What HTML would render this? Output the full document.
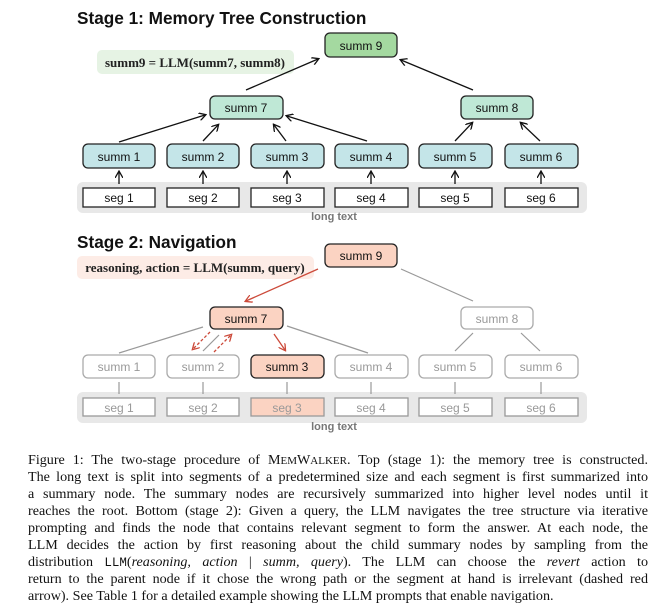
<!DOCTYPE html>
<html><head><meta charset="utf-8"><style>
body{margin:0;width:670px;height:613px;background:#fff;overflow:hidden;position:relative}
svg{position:absolute;left:0;top:0}
.cap{position:absolute;left:28px;top:452px;width:620px;font-family:"Liberation Serif",serif;font-size:14.1px;color:#111}
.cap div{height:17px;line-height:17px;text-align:justify;text-align-last:justify;white-space:nowrap}
.cap div.l{text-align-last:left}
.sc{font-size:11px}
</style></head><body>
<svg width="670" height="450" viewBox="0 0 670 450" font-family="Liberation Sans, sans-serif">
<defs>
<marker id="a" markerWidth="8" markerHeight="8" refX="6" refY="4" orient="auto" markerUnits="userSpaceOnUse"><path d="M0,0 L7,4 L0,8" fill="none" stroke="#111" stroke-width="1.3"/></marker>
<marker id="r" markerWidth="8" markerHeight="8" refX="6" refY="4" orient="auto" markerUnits="userSpaceOnUse"><path d="M0,0 L7,4 L0,8" fill="none" stroke="#cc4a3a" stroke-width="1.3"/></marker>
</defs>
<text x="77" y="24" font-size="17.2" font-weight="bold" fill="#111">Stage 1: Memory Tree Construction</text>
<rect x="97" y="50" width="197" height="24" rx="5" fill="#e6f3e4"/>
<text x="195" y="67" font-size="13" font-family="Liberation Serif, serif" font-weight="bold" text-anchor="middle" fill="#222">summ9 = LLM(summ7, summ8)</text>
<rect x="77" y="182" width="510" height="31" rx="6" fill="#e8e8e8"/>
<text x="334" y="220" font-size="11" font-weight="bold" fill="#777" text-anchor="middle">long text</text>
<g stroke="#111" stroke-width="1.3" marker-end="url(#a)">
<line x1="246" y1="90" x2="318" y2="59"/><line x1="473" y1="90" x2="401" y2="60"/>
<line x1="119" y1="142" x2="205" y2="115"/><line x1="203" y1="141" x2="218" y2="125"/>
<line x1="286" y1="141" x2="274" y2="125"/><line x1="367" y1="141" x2="287" y2="116"/>
<line x1="455" y1="141" x2="472" y2="123"/><line x1="540" y1="141" x2="521" y2="123"/>
<line x1="119" y1="184" x2="119" y2="172"/><line x1="203" y1="184" x2="203" y2="172"/>
<line x1="287" y1="184" x2="287" y2="172"/><line x1="371" y1="184" x2="371" y2="172"/>
<line x1="455" y1="184" x2="455" y2="172"/><line x1="541" y1="184" x2="541" y2="172"/>
</g>
<g stroke="#222" stroke-width="1.3" font-size="12">
<rect x="325" y="33" width="72" height="24" rx="5" fill="#a4d9a0"/>
<rect x="210" y="96" width="73" height="23" rx="5" fill="#bfe8d6"/>
<rect x="461" y="96" width="72" height="23" rx="5" fill="#bfe8d6"/>
<rect x="83" y="144" width="72" height="24" rx="5" fill="#c4e5e8"/>
<rect x="167" y="144" width="72" height="24" rx="5" fill="#c4e5e8"/>
<rect x="251" y="144" width="73" height="24" rx="5" fill="#c4e5e8"/>
<rect x="335" y="144" width="73" height="24" rx="5" fill="#c4e5e8"/>
<rect x="419" y="144" width="73" height="24" rx="5" fill="#c4e5e8"/>
<rect x="505" y="144" width="73" height="24" rx="5" fill="#c4e5e8"/>
<rect x="83" y="188" width="72" height="19" fill="#fff"/>
<rect x="167" y="188" width="72" height="19" fill="#fff"/>
<rect x="251" y="188" width="73" height="19" fill="#fff"/>
<rect x="335" y="188" width="73" height="19" fill="#fff"/>
<rect x="419" y="188" width="73" height="19" fill="#fff"/>
<rect x="505" y="188" width="73" height="19" fill="#fff"/>
</g>
<g font-size="12" fill="#111" text-anchor="middle">
<text x="361" y="50">summ 9</text><text x="246" y="112">summ 7</text><text x="497" y="112">summ 8</text>
<text x="119" y="161">summ 1</text><text x="203" y="161">summ 2</text><text x="287" y="161">summ 3</text>
<text x="371" y="161">summ 4</text><text x="455" y="161">summ 5</text><text x="541" y="161">summ 6</text>
<text x="119" y="202">seg 1</text><text x="203" y="202">seg 2</text><text x="287" y="202">seg 3</text>
<text x="371" y="202">seg 4</text><text x="455" y="202">seg 5</text><text x="541" y="202">seg 6</text>
</g>

<text x="77" y="248" font-size="17.2" font-weight="bold" fill="#111">Stage 2: Navigation</text>
<rect x="77" y="256" width="237" height="23" rx="5" fill="#fdece6"/>
<text x="195" y="272" font-size="13" font-family="Liberation Serif, serif" font-weight="bold" text-anchor="middle" fill="#222">reasoning, action = LLM(summ, query)</text>
<rect x="77" y="392" width="510" height="31" rx="6" fill="#e8e8e8"/>
<text x="334" y="430" font-size="11" font-weight="bold" fill="#777" text-anchor="middle">long text</text>
<g stroke="#999" stroke-width="1.2">
<line x1="401" y1="269" x2="473" y2="301"/>
<line x1="203" y1="327" x2="119" y2="353"/><line x1="219" y1="335" x2="203" y2="351"/>
<line x1="287" y1="326" x2="368" y2="353"/>
<line x1="473" y1="333" x2="455" y2="351"/><line x1="521" y1="333" x2="540" y2="351"/>
<line x1="119" y1="382" x2="119" y2="394"/><line x1="203" y1="382" x2="203" y2="394"/>
<line x1="287" y1="382" x2="287" y2="394"/><line x1="371" y1="382" x2="371" y2="394"/>
<line x1="455" y1="382" x2="455" y2="394"/><line x1="541" y1="382" x2="541" y2="394"/>
</g>
<g stroke="#cc4a3a" stroke-width="1.3" marker-end="url(#r)">
<line x1="318" y1="269" x2="246" y2="301"/>
<line x1="274" y1="334" x2="285" y2="350"/>
<line x1="210" y1="332" x2="193" y2="349" stroke-dasharray="3,2"/>
<line x1="214" y1="352" x2="231" y2="335" stroke-dasharray="3,2"/>
</g>
<g stroke-width="1.3">
<rect x="325" y="244" width="72" height="23" rx="5" fill="#fbd3c2" stroke="#222"/>
<rect x="210" y="307" width="73" height="22" rx="5" fill="#fbd3c2" stroke="#222"/>
<rect x="461" y="307" width="72" height="22" rx="5" fill="#fff" stroke="#aaa"/>
<rect x="83" y="355" width="72" height="23" rx="5" fill="#fff" stroke="#aaa"/>
<rect x="167" y="355" width="72" height="23" rx="5" fill="#fff" stroke="#aaa"/>
<rect x="251" y="355" width="73" height="23" rx="5" fill="#fbd3c2" stroke="#222"/>
<rect x="335" y="355" width="73" height="23" rx="5" fill="#fff" stroke="#aaa"/>
<rect x="419" y="355" width="73" height="23" rx="5" fill="#fff" stroke="#aaa"/>
<rect x="505" y="355" width="73" height="23" rx="5" fill="#fff" stroke="#aaa"/>
<g stroke="#999"><rect x="83" y="398" width="72" height="18" fill="#fff"/>
<rect x="167" y="398" width="72" height="18" fill="#fff"/>
<rect x="251" y="398" width="73" height="18" fill="#fbd3c2"/>
<rect x="335" y="398" width="73" height="18" fill="#fff"/>
<rect x="419" y="398" width="73" height="18" fill="#fff"/>
<rect x="505" y="398" width="73" height="18" fill="#fff"/></g>
</g>
<g font-size="12" fill="#999" text-anchor="middle">
<text x="361" y="260" fill="#111">summ 9</text><text x="246" y="323" fill="#111">summ 7</text><text x="497" y="323">summ 8</text>
<text x="119" y="371">summ 1</text><text x="203" y="371">summ 2</text><text x="287" y="371" fill="#111">summ 3</text>
<text x="371" y="371">summ 4</text><text x="455" y="371">summ 5</text><text x="541" y="371">summ 6</text>
<text x="119" y="412">seg 1</text><text x="203" y="412">seg 2</text><text x="287" y="412">seg 3</text>
<text x="371" y="412">seg 4</text><text x="455" y="412">seg 5</text><text x="541" y="412">seg 6</text>
</g>
</svg>
<div class="cap">
<div>Figure 1: The two-stage procedure of M<span class="sc">EM</span>W<span class="sc">ALKER</span>. Top (stage 1): the memory tree is constructed.</div>
<div>The long text is split into segments of a predetermined size and each segment is first summarized into</div>
<div>a summary node. The summary nodes are recursively summarized into higher level nodes until it</div>
<div>reaches the root. Bottom (stage 2): Given a query, the LLM navigates the tree structure via iterative</div>
<div>prompting and finds the node that contains relevant segment to form the answer. At each node, the</div>
<div>LLM decides the action by first reasoning about the child summary nodes by sampling from the</div>
<div>distribution <span style="font-family:'Liberation Mono',monospace;font-size:12.5px">LLM</span>(<i>reasoning, action</i> | <i>summ, query</i>). The LLM can choose the <i>revert</i> action to</div>
<div>return to the parent node if it chose the wrong path or the segment at hand is irrelevant (dashed red</div>
<div class="l">arrow). See Table 1 for a detailed example showing the LLM prompts that enable navigation.</div>
</div>
</body></html>
